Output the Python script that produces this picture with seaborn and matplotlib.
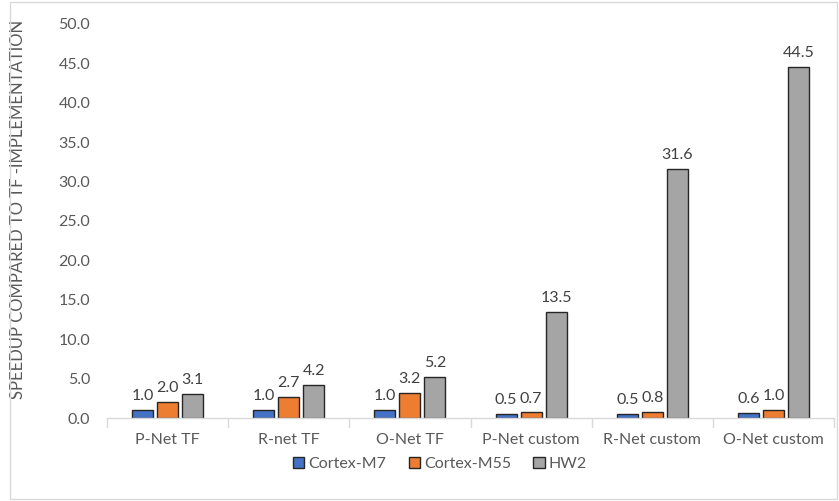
import matplotlib
matplotlib.use("Agg")
import matplotlib.pyplot as plt
import seaborn as sns
import pandas as pd
from matplotlib.patches import Rectangle

categories = ["P-Net TF", "R-net TF", "O-Net TF", "P-Net custom", "R-Net custom", "O-Net custom"]
series = ["Cortex-M7", "Cortex-M55", "HW2"]
cortex_m7 = [1.0, 1.0, 1.0, 0.5, 0.5, 0.6]
cortex_m55 = [2.0, 2.7, 3.2, 0.7, 0.8, 1.0]
hw2 = [3.1, 4.2, 5.2, 13.5, 31.6, 44.5]
y_ticks = [0, 5, 10, 15, 20, 25, 30, 35, 40, 45, 50]

rows = []
for name, vals in zip(series, [cortex_m7, cortex_m55, hw2]):
    for cat, v in zip(categories, vals):
        rows.append({"Model": cat, "Target": name, "Speedup": v})
df = pd.DataFrame(rows)

sns.set_theme(style="white")
plt.rcParams["font.family"] = ["Lato", "DejaVu Sans"]

text_color = "#595959"
palette = ["#4472C4", "#ED7D31", "#A5A5A5"]
fs = 11.5

fig = plt.figure(figsize=(8.39, 5.01), dpi=100)
ax = fig.add_axes([107 / 839, 83 / 501, 727 / 839, 394 / 501])

sns.barplot(data=df, x="Model", y="Speedup", hue="Target", order=categories,
            hue_order=series, palette=palette, width=0.62, gap=0.16,
            edgecolor="#262626", linewidth=1.0, saturation=1, ax=ax, legend=True)

for cont in ax.containers:
    ax.bar_label(cont, fmt="%.1f", padding=5, fontsize=fs, color="#404040")

ax.set_ylim(0, 50)
ax.set_xlim(-0.5, len(categories) - 0.5)
ax.set_yticks(y_ticks)
ax.set_yticklabels([f"{t:.1f}" for t in y_ticks], fontsize=fs, color=text_color)
ax.set_xticks(range(len(categories)))
ax.set_xticklabels(categories, fontsize=fs, color=text_color)
ax.tick_params(axis="x", length=0, pad=11)
ax.tick_params(axis="y", length=0, pad=12)

# category boundary tick marks below the baseline
for b in [i - 0.5 for i in range(len(categories) + 1)]:
    ax.plot([b, b], [0, -1.2], color="#D9D9D9", lw=1, clip_on=False)

ax.set_xlabel("")
ax.set_ylabel("SPEEDUP COMPARED TO TF -IMPLEMENTATION", fontsize=12,
              color=text_color)
ax.yaxis.set_label_coords(-81 / 727, 0.53)
for side in ["top", "right", "left"]:
    ax.spines[side].set_visible(False)
ax.spines["bottom"].set_color("#D9D9D9")
ax.spines["bottom"].set_linewidth(1)

handles, labels = ax.get_legend_handles_labels()
ax.legend_.remove()
fig.legend(handles, labels, loc="center", bbox_to_anchor=(440 / 839, 1 - 464 / 501),
           ncol=3, frameon=False, fontsize=fs, labelcolor=text_color,
           handlelength=0.7, handleheight=0.7, handletextpad=0.25, columnspacing=1.4)

fig.patches.append(Rectangle((10 / 839, 2 / 501), 827 / 839, 497 / 501,
                             transform=fig.transFigure, fill=False,
                             edgecolor="#D9D9D9", linewidth=1))

fig.savefig("out.png", dpi=100)
